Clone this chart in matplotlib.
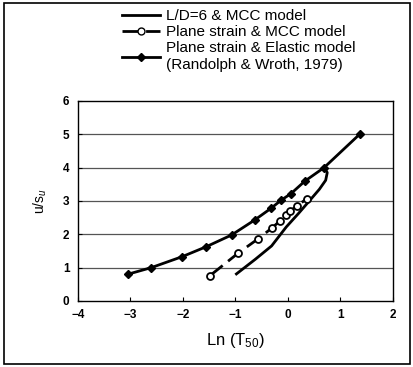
import matplotlib
matplotlib.use("Agg")
import matplotlib.pyplot as plt
from matplotlib.patches import Rectangle
from matplotlib.lines import Line2D

plt.rcParams['font.family'] = ['Liberation Sans', 'DejaVu Sans']
plt.rcParams['mathtext.fontset'] = 'custom'
plt.rcParams['mathtext.rm'] = 'Liberation Sans'
plt.rcParams['mathtext.it'] = 'Liberation Sans:italic'

# L/D=6 & MCC model (solid, no markers)
ld6_x = [-0.98, -0.62, -0.31, -0.03, 0.20, 0.42, 0.60, 0.72, 0.75, 0.70]
ld6_y = [0.81, 1.25, 1.65, 2.22, 2.62, 3.02, 3.35, 3.62, 3.85, 3.98]

# Plane strain & MCC model (dashed, open circles)
ps_mcc_x = [-1.49, -0.95, -0.57, -0.31, -0.15, -0.04, 0.04, 0.17, 0.36]
ps_mcc_y = [0.75, 1.43, 1.86, 2.18, 2.40, 2.57, 2.70, 2.84, 3.07]

# Plane strain & Elastic model (solid, filled diamonds)
ps_el_x = [-3.05, -2.60, -2.01, -1.55, -1.07, -0.63, -0.32, -0.13, 0.06, 0.32, 0.69, 1.38]
ps_el_y = [0.80, 1.00, 1.33, 1.63, 1.98, 2.43, 2.78, 3.02, 3.22, 3.59, 4.00, 5.02]

xticks = [-4, -3, -2, -1, 0, 1, 2]
yticks = [0, 1, 2, 3, 4, 5, 6]

fig = plt.figure(figsize=(4.14, 3.67), dpi=100)
ax = fig.add_axes([0.188, 0.180, 0.761, 0.545])

for y in yticks[1:-1]:
    ax.axhline(y, color="#555555", lw=0.9, zorder=0)

ax.plot(ld6_x, ld6_y, color="black", lw=2.0)
ax.plot(ps_mcc_x, ps_mcc_y, color="black", lw=2.0, ls=(0, (6, 2.5)),
        marker="o", ms=5, mfc="white", mec="black", mew=1.3)
ax.plot(ps_el_x, ps_el_y, color="black", lw=2.0,
        marker="D", ms=4, mfc="black", mec="black")

ax.set_xlim(-4, 2)
ax.set_ylim(0, 6)
ax.set_xticks(xticks)
ax.set_yticks(yticks)
ax.tick_params(direction="in", length=3, labelsize=8.5, pad=6)
for lab in ax.get_xticklabels() + ax.get_yticklabels():
    lab.set_fontweight("bold")
for sp in ax.spines.values():
    sp.set_linewidth(1.0)

ax.set_xlabel("Ln (T$_{50}$)", fontsize=12, labelpad=7)
ax.set_ylabel("u/s$_u$", fontsize=10, labelpad=10)

handles = [
    Line2D([], [], color="black", lw=2.0),
    Line2D([], [], color="black", lw=2.0, ls=(0, (6, 2.5)), marker="o", ms=5,
           mfc="white", mec="black"),
    Line2D([], [], color="black", lw=2.0, marker="D", ms=4, mfc="black"),
]
labels = ["L/D=6 & MCC model", "Plane strain & MCC model",
          "Plane strain & Elastic model\n(Randolph & Wroth, 1979)"]
fig.legend(handles, labels, loc="upper left", bbox_to_anchor=(0.268, 1.005),
           frameon=False, fontsize=11, handlelength=2.5, labelspacing=0.15,
           handletextpad=0.4, borderpad=0.2)

fig.add_artist(Rectangle((0.01, 0.008), 0.98, 0.985, transform=fig.transFigure,
                         fill=False, ec="black", lw=1.2))

fig.savefig("out.png", dpi=100)
